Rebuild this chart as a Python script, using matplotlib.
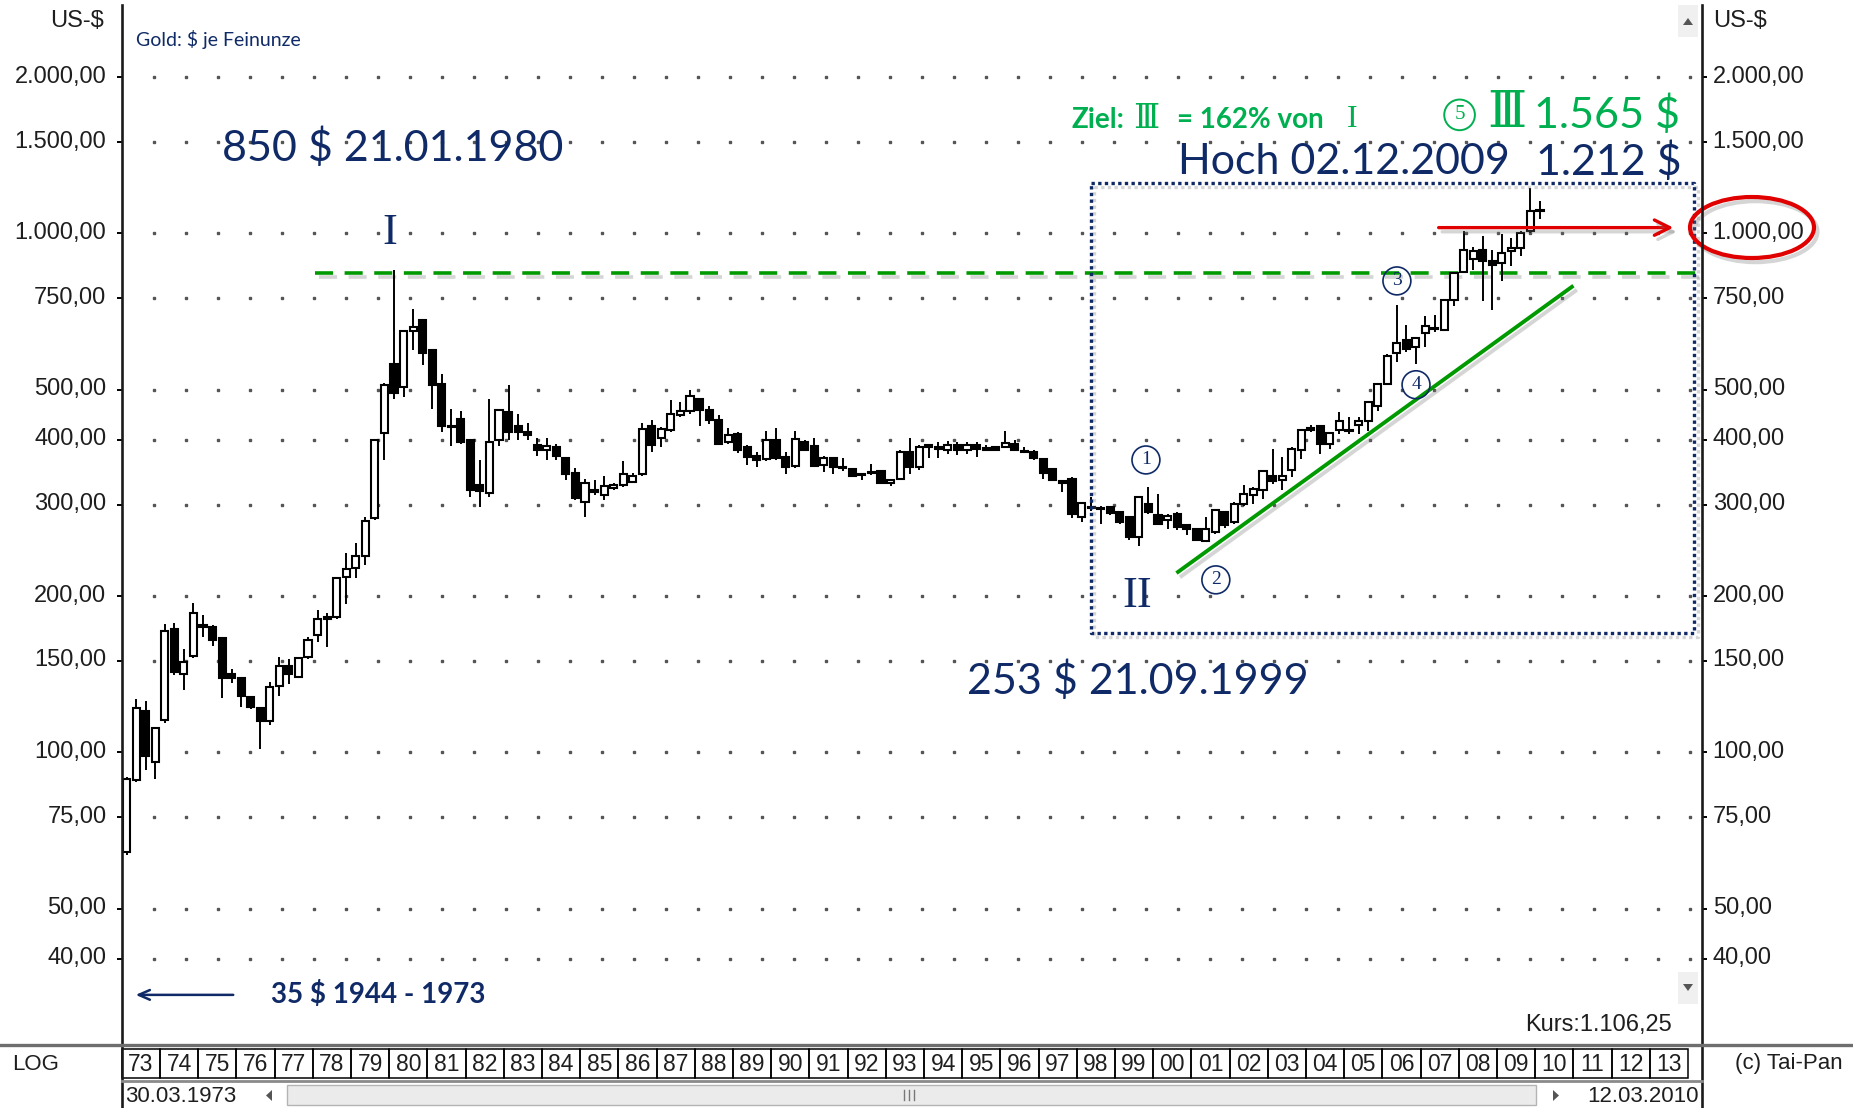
# -*- coding: utf-8 -*-
# Gold: $ je Feinunze - Quartalskerzen 1973 bis 2010, log skala (Tai-Pan nachbau)

import numpy as np
import matplotlib.pyplot as plt
import matplotlib.patheffects as pe
import matplotlib.transforms as mtrans
from matplotlib.patches import Rectangle, Ellipse, Polygon
from matplotlib.ticker import NullLocator

plt.rcParams['font.family'] = ['Liberation Sans', 'DejaVu Sans']

#%% daten: quartale Q1 1973 ... Q1 2010
opens = [64.3, 88.5, 119.9, 95.9,
         115.4, 172.6, 141.5, 153.1,
         176.1, 174.7, 166.2, 141.5,
         138.8, 127.8, 122.0, 114.8,
         134.2, 147.0, 139.6, 152.7,
         168.5, 181.0, 182.0, 218.0,
         226.5, 239.0, 283.0, 413.0,
         561.0, 507.0, 650.0, 681.0,
         597.0, 513.0, 423.0, 438.0,
         399.0, 327.0, 316.0, 400.0,
         453.0, 425.0, 414.6, 390.7,
         383.3, 387.8, 370.0, 344.7,
         304.0, 321.0, 313.0, 322.5,
         327.3, 332.0, 343.7, 425.0,
         404.0, 417.6, 446.0, 454.0,
         480.5, 456.0, 437.8, 396.6,
         411.5, 387.8, 372.0, 366.8,
         400.0, 371.0, 356.0, 396.6,
         389.0, 357.7, 370.0, 355.0,
         350.9, 343.7, 347.0, 348.8,
         329.8, 337.0, 379.4, 354.0,
         391.8, 387.8, 383.3, 391.8,
         383.3, 391.8, 386.0, 387.8,
         387.8, 393.7, 380.5, 379.4,
         366.8, 350.9, 334.0, 337.0,
         283.6, 296.8, 296.0, 296.8,
         290.3, 284.0, 259.8, 301.3,
         287.3, 279.8, 288.2, 273.7,
         269.7, 256.0, 265.8, 290.3,
         277.8, 301.3, 312.7, 319.7,
         341.6, 335.2, 349.3, 381.9,
         422.4, 425.0, 393.3, 417.4,
         418.6, 426.8, 435.0, 466.0,
         513.0, 587.5, 623.0, 605.0,
         642.5, 657.0, 652.0, 745.0,
         841.6, 893.0, 931.0, 884.0,
         877.6, 924.0, 938.0, 1010.0,
         1104.6]

highs = [89.5, 126.6, 125.8, 112.0,
         176.5, 177.3, 157.9, 194.3,
         184.1, 176.0, 167.0, 145.0,
         139.5, 128.5, 122.5, 136.8,
         152.7, 151.1, 153.0, 166.6,
         188.3, 185.5, 217.0, 242.0,
         253.0, 284.0, 400.0, 515.0,
         849.0, 650.0, 714.0, 681.0,
         597.0, 536.0, 458.0, 455.0,
         400.0, 366.0, 480.0, 458.0,
         510.0, 449.5, 431.0, 404.0,
         404.0, 393.7, 370.0, 352.4,
         337.0, 335.5, 340.6, 330.0,
         364.6, 345.0, 431.0, 436.5,
         424.0, 477.0, 473.5, 500.0,
         480.5, 464.5, 446.0, 422.5,
         415.0, 390.7, 379.4, 416.0,
         422.5, 379.4, 416.0, 399.5,
         404.0, 372.0, 370.0, 370.0,
         352.4, 344.0, 360.0, 350.0,
         337.0, 383.3, 404.0, 390.7,
         393.7, 396.6, 398.0, 396.6,
         396.6, 396.6, 390.7, 389.0,
         416.0, 399.5, 387.8, 383.3,
         367.0, 352.0, 335.0, 338.6,
         303.0, 310.5, 298.0, 298.0,
         291.0, 286.0, 312.0, 324.4,
         315.0, 288.0, 290.0, 275.0,
         271.0, 284.0, 294.7, 292.0,
         303.5, 326.8, 325.3, 350.4,
         384.7, 370.7, 387.5, 420.5,
         426.8, 425.5, 413.0, 452.8,
         443.0, 443.0, 474.0, 515.0,
         586.0, 729.0, 667.0, 630.0,
         692.0, 697.0, 745.0, 841.0,
         1010.0, 940.0, 988.0, 930.0,
         995.6, 981.0, 1010.0, 1225.5,
         1155.0]

lows = [63.5, 87.5, 92.3, 88.9,
        114.0, 141.0, 132.0, 152.0,
        167.0, 160.6, 127.5, 136.0,
        122.4, 121.0, 101.6, 112.7,
        128.5, 135.2, 139.0, 151.1,
        163.2, 159.5, 181.0, 193.0,
        217.0, 230.0, 280.0, 366.0,
        480.0, 484.0, 597.0, 557.0,
        458.6, 415.0, 390.0, 392.0,
        311.0, 297.0, 310.0, 389.0,
        399.5, 399.5, 400.0, 372.0,
        365.7, 365.7, 335.0, 306.0,
        283.6, 313.0, 306.0, 320.0,
        325.0, 329.8, 340.6, 379.4,
        387.8, 414.6, 443.0, 449.5,
        425.0, 430.0, 390.7, 392.0,
        378.0, 357.7, 355.0, 364.0,
        365.7, 343.7, 352.4, 380.0,
        354.0, 347.0, 343.7, 348.0,
        338.6, 334.6, 343.0, 329.8,
        325.9, 335.0, 343.7, 350.0,
        370.0, 370.0, 376.6, 374.0,
        376.6, 371.0, 380.0, 381.0,
        386.0, 380.0, 378.0, 365.7,
        337.0, 333.0, 318.0, 282.5,
        278.3, 292.0, 275.7, 287.0,
        276.0, 257.0, 250.4, 288.0,
        274.0, 269.7, 268.0, 261.8,
        255.4, 255.0, 264.0, 271.0,
        275.7, 299.0, 301.3, 308.0,
        329.0, 319.7, 339.0, 368.0,
        415.0, 375.0, 384.7, 410.5,
        411.5, 411.5, 416.0, 455.0,
        510.0, 566.0, 590.0, 561.0,
        605.0, 647.0, 648.0, 723.6,
        839.0, 850.0, 740.0, 713.0,
        809.0, 866.0, 904.0, 1003.0,
        1064.0]

closes = [88.9, 122.0, 98.4, 111.4,
          171.5, 142.6, 149.2, 185.5,
          174.7, 164.9, 138.8, 138.8,
          128.5, 122.4, 114.8, 133.4,
          147.0, 141.5, 152.3, 164.3,
          180.8, 182.0, 216.3, 226.0,
          239.0, 279.0, 399.0, 511.0,
          492.0, 650.0, 660.0, 589.5,
          511.0, 424.6, 425.0, 396.0,
          321.0, 318.5, 396.0, 457.0,
          414.6, 414.6, 408.5, 382.0,
          389.0, 372.0, 343.7, 308.6,
          329.8, 317.8, 325.9, 327.3,
          343.7, 340.6, 420.7, 390.7,
          420.7, 449.5, 454.0, 485.4,
          456.0, 436.5, 393.7, 408.5,
          382.0, 371.0, 365.7, 399.5,
          368.4, 355.0, 402.5, 383.3,
          356.0, 368.4, 354.0, 352.4,
          340.6, 343.0, 345.7, 330.7,
          335.5, 379.4, 355.0, 387.8,
          387.8, 385.0, 391.8, 383.3,
          390.7, 385.0, 383.3, 383.3,
          394.8, 382.0, 379.4, 368.4,
          345.7, 334.6, 330.0, 287.9,
          301.8, 296.0, 294.5, 289.0,
          277.8, 259.8, 310.5, 290.3,
          275.7, 286.0, 271.8, 269.7,
          256.8, 269.7, 292.6, 273.7,
          301.3, 315.0, 322.0, 348.2,
          334.0, 341.6, 384.7, 417.4,
          417.4, 393.3, 412.5, 436.0,
          416.0, 435.0, 473.0, 513.0,
          581.0, 614.5, 598.0, 628.0,
          662.0, 655.0, 745.0, 839.0,
          931.0, 924.0, 884.0, 871.0,
          917.6, 938.0, 1003.0, 1104.6,
          1106.25]

y_ticks = [40, 50, 75, 100, 150, 200, 300, 400, 500, 750, 1000, 1500, 2000]
y_labels = ["40,00", "50,00", "75,00", "100,00", "150,00", "200,00", "300,00",
            "400,00", "500,00", "750,00", "1.000,00", "1.500,00", "2.000,00"]
years = ["73", "74", "75", "76", "77", "78", "79", "80", "81", "82", "83", "84",
         "85", "86", "87", "88", "89", "90", "91", "92", "93", "94", "95", "96",
         "97", "98", "99", "00", "01", "02", "03", "04", "05", "06", "07", "08",
         "09", "10", "11", "12", "13"]

#%% farben / schriften
navy = "#0f2a66"
green_txt = "#00b050"
green_line = "#009a00"
red = "#e00000"
calib = ["Lato", "DejaVu Sans"]
serif = ["Liberation Serif", "DejaVu Serif"]
shadow = [pe.SimpleLineShadow(offset=(2.5, -3), shadow_color="#777777", alpha=0.3), pe.Normal()]

#%% figur und achsen (pixel layout wie tai-pan)
W, H = 1853, 1108
LEFT, RIGHT, TOP, BOTTOM = 121.8, 1701.5, 5, 1045
PX_YEAR = 38.2

fig = plt.figure(figsize=(W / 100, H / 100), dpi=100)
fig.patch.set_facecolor("white")
ax = fig.add_axes([LEFT / W, 1 - BOTTOM / H, (RIGHT - LEFT) / W, (BOTTOM - TOP) / H])
ax.patch.set_alpha(0)
x0 = 1973
x1 = x0 + (RIGHT - LEFT) / PX_YEAR
ax.set_yscale("log")
ax.set_xlim(x0, x1)
ax.set_ylim(27.3, 2755)
for s in ax.spines.values():
    s.set_visible(False)
ax.set_yticks(y_ticks)
ax.set_yticklabels(y_labels)
ax.yaxis.set_minor_locator(NullLocator())
ax.tick_params(axis="y", which="major", length=3.6, width=1.4, pad=7.5,
               labelsize=17, labelcolor="#1e1e1e")
ax.tick_params(axis="x", bottom=False, labelbottom=False)

# rechte skala
axr = ax.twinx()
axr.set_yscale("log")
axr.set_ylim(ax.get_ylim())
for s in axr.spines.values():
    s.set_visible(False)
axr.set_yticks(y_ticks)
axr.set_yticklabels(y_labels)
axr.yaxis.set_minor_locator(NullLocator())
axr.tick_params(axis="y", which="major", length=3.6, width=1.4, pad=4.5,
                labelsize=17, labelcolor="#1e1e1e")

# beschriftungen sitzen etwas ueber dem tick
lift = mtrans.ScaledTranslation(0, 3 / 100, fig.dpi_scale_trans)
for lbl in ax.get_yticklabels() + axr.get_yticklabels():
    lbl.set_transform(lbl.get_transform() + lift)

# punkt-raster auf den kursniveaus
dot_x = x0 + np.arange(32, RIGHT - LEFT - 8, 32) / PX_YEAR
for v in y_ticks:
    ax.plot(dot_x, [v] * len(dot_x), ls="none", marker="s", ms=1.8, color="#555555", zorder=1)

#%% kerzen
o = np.array(opens)
c = np.array(closes)
h = np.array(highs)
l = np.array(lows)
xq = x0 + np.arange(len(o)) / 4 + 0.125
up = c >= o
ax.vlines(xq, l, h, color="black", lw=1.4, zorder=3)
bottom = np.minimum(o, c)
height = np.maximum(np.abs(c - o), bottom * 0.004)
ax.bar(xq, height, width=0.185, bottom=bottom, color=np.where(up, "white", "black"),
       edgecolor="black", linewidth=1.5, zorder=4)

#%% annotationen
ax.text(1973.37, 2359, "Gold: $ je Feinunze", family=calib, fontsize=14, color=navy,
        ha="left", va="center")
ax.text(1975.62, 1461, "850 $ 21.01.1980", family=calib, fontsize=31, color=navy,
        ha="left", va="center")
ax.text(1980.02, 1002, "I", family=serif, fontsize=32, color=navy, ha="center", va="center")

# widerstand 850 (gruen gestrichelt)
ax.plot([1978.06, x1], [840, 840], color=green_line, lw=2.6, ls=(0, (5, 3.2)),
        zorder=2, path_effects=shadow)

# gepunkteter rahmen
bx = [1998.37, 2014.16, 2014.16, 1998.37, 1998.37]
by = [1251, 1251, 170, 170, 1251]
ax.plot(bx, by, color=navy, lw=2.4, ls=(0, (1, 1)), zorder=5, path_effects=shadow)

# trendlinie
ax.plot([2000.65, 2010.96], [222.7, 789], color=green_line, lw=2.8, zorder=5,
        path_effects=shadow)

# roter pfeil
ax.annotate("", xy=(2013.69, 1026), xytext=(2007.40, 1026),
            arrowprops=dict(arrowstyle="->,head_length=1.1,head_width=0.55",
                            color=red, lw=2.4, path_effects=shadow), zorder=6)

# kreiszahlen
circ = [("1", 1999.81, 366), ("2", 2001.64, 215), ("3", 2006.38, 810), ("4", 2006.88, 511)]
for t, xx, yy in circ:
    ax.text(xx, yy, t, family=serif, fontsize=14, color=navy, ha="center", va="center",
            zorder=6, bbox=dict(boxstyle="circle,pad=0.28", fc="none", ec=navy, lw=1.2))

ax.text(1999.58, 200, "II", family=serif, fontsize=32, color=navy, ha="center", va="center")
ax.text(1995.13, 137.3, "253 $ 21.09.1999", family=calib, fontsize=31, color=navy,
        ha="left", va="center")

# ziel zeile
ax.text(1997.87, 1654, "Ziel:", family=calib, fontsize=20, fontweight="bold",
        color=green_txt, ha="left", va="center")
ax.text(1999.82, 1654, "Ⅲ", family=serif, fontsize=24, color=green_txt, ha="center", va="center")
ax.text(2000.62, 1654, "= 162% von", family=calib, fontsize=20, fontweight="bold",
        color=green_txt, ha="left", va="center")
ax.text(2005.20, 1654, "I", family=serif, fontsize=23, color=green_txt, ha="center", va="center")

ax.text(2008.02, 1692, "5", family=serif, fontsize=15, color=green_txt, ha="center", va="center",
        bbox=dict(boxstyle="circle,pad=0.28", fc="none", ec=green_txt, lw=1.4))
ax.text(2009.27, 1692, "Ⅲ", family=serif, fontsize=36, color=green_txt, ha="center", va="center")
ax.text(2013.79, 1692, "1.565 $", family=calib, fontsize=31, color=green_txt,
        ha="right", va="center")

ax.text(2000.64, 1373, "Hoch 02.12.2009", family=calib, fontsize=31, color=navy,
        ha="left", va="center")
ax.text(2013.84, 1373, "1.212 $", family=calib, fontsize=31, color=navy,
        ha="right", va="center")

# 35 $ vor 1973
ax.annotate("", xy=(1973.29, 34.1), xytext=(1975.99, 34.1),
            arrowprops=dict(arrowstyle="->,head_length=0.8,head_width=0.35", color=navy, lw=1.8))
ax.text(1976.91, 34.1, "35 $ 1944 - 1973", family=calib, fontsize=20, fontweight="bold",
        color=navy, ha="left", va="center")

ax.text(2013.58, 29.85, "Kurs:1.106,25", fontsize=17, color="#1e1e1e", ha="right", va="center")

#%% jahresleiste unten
ax_j = fig.add_axes([LEFT / W, 1 - 1078 / H, (RIGHT - LEFT) / W, 29 / H])
ax_j.set_xlim(x0, x1)
ax_j.set_ylim(0, 1)
ax_j.axis("off")
for i, lab in enumerate(years):
    ax_j.add_patch(Rectangle((x0 + i, 0), 1, 1, fill=False, ec="black", lw=1.1, clip_on=False))
    ax_j.text(x0 + i + 0.5, 0.47, lab, ha="center", va="center", fontsize=16.5, color="#1e1e1e")

#%% rahmen, scrollbar, texte (pixel overlay)
ov = fig.add_axes([0, 0, 1, 1])
ov.set_xlim(0, W)
ov.set_ylim(H, 0)
ov.axis("off")
ov.plot([LEFT, LEFT], [TOP, H], color="#1a1a1a", lw=1.9)
ov.plot([RIGHT, RIGHT], [TOP, H], color="#1a1a1a", lw=1.9)
ov.plot([0, W], [1045, 1045], color="#6e6e6e", lw=2.4)
ov.plot([LEFT, RIGHT], [1080.5, 1080.5], color="#8a8a8a", lw=2.0)

ov.text(104, 21, "US-$", fontsize=17, color="#1e1e1e", ha="right", va="center")
ov.text(1713, 21, "US-$", fontsize=17, color="#1e1e1e", ha="left", va="center")
ov.text(12, 1064, "LOG", fontsize=16, color="#1e1e1e", ha="left", va="center")
ov.text(1843, 1064, "(c) Tai-Pan", fontsize=16, color="#1e1e1e", ha="right", va="center")
ov.text(125, 1096, "30.03.1973", fontsize=16, color="#1e1e1e", ha="left", va="center")
ov.text(1699, 1096, "12.03.2010", fontsize=16, color="#1e1e1e", ha="right", va="center")

ov.add_patch(Rectangle((287, 1085), 1249, 20, fc="#ebebeb", ec="#b4b4b4", lw=1))
for gx in (904, 909, 914):
    ov.plot([gx, gx], [1090, 1100], color="#777777", lw=1)
ov.add_patch(Polygon([(272, 1090), (272, 1101), (266, 1095.5)], fc="#555555", ec="none"))
ov.add_patch(Polygon([(1553, 1090), (1553, 1101), (1559, 1095.5)], fc="#555555", ec="none"))

# scroll knoepfe rechts
ov.add_patch(Rectangle((1678, 5), 20, 32, fc="#f0f0f0", ec="none"))
ov.add_patch(Polygon([(1683, 25), (1693, 25), (1688, 18)], fc="#555555", ec="none"))
ov.add_patch(Rectangle((1678, 972), 20, 32, fc="#f0f0f0", ec="none"))
ov.add_patch(Polygon([(1683, 984), (1693, 984), (1688, 991)], fc="#555555", ec="none"))

# roter kreis um 1.000,00
ov.add_patch(Ellipse((1752, 227.5), 124, 61, fill=False, ec=red, lw=3, path_effects=shadow))

fig.savefig("out.png", dpi=100)
